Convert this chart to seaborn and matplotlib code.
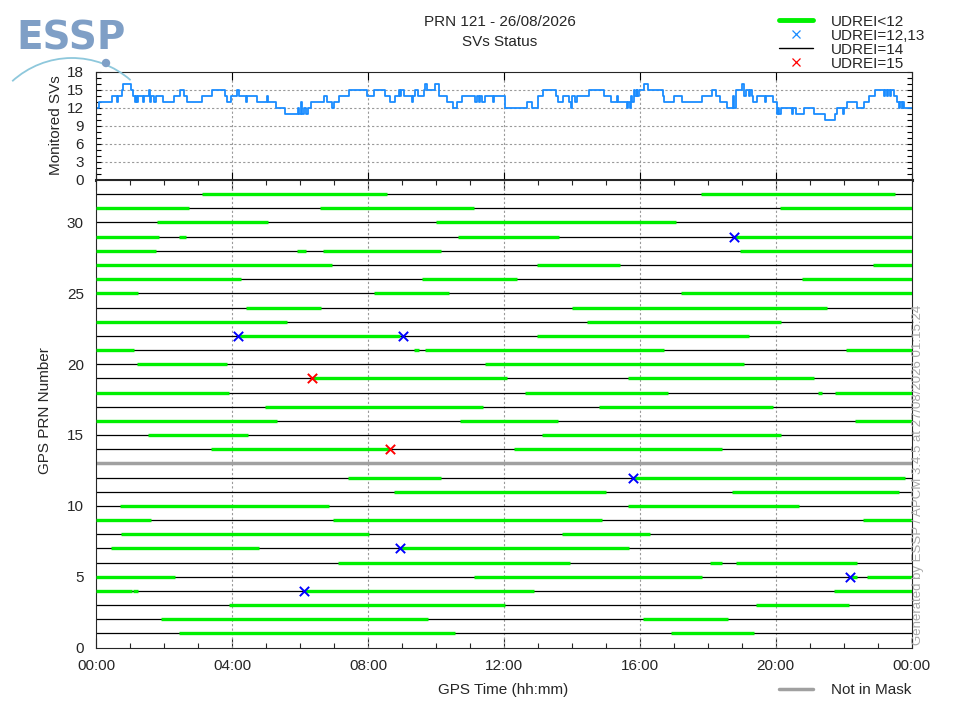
import matplotlib
matplotlib.use("Agg")
import matplotlib.pyplot as plt
import seaborn as sns
import pandas as pd
from matplotlib.lines import Line2D
from matplotlib.patches import Arc, Circle
from matplotlib.ticker import MultipleLocator, FixedLocator

# --- data ---

# monitored SVs (step changes, hours of day)
sv_hours = [0.00, 0.07, 0.47, 0.62, 0.65, 0.75, 0.78, 1.03, 1.09, 1.13, 1.16, 1.19, 1.22,
            1.36, 1.39, 1.54, 1.57, 1.60, 1.70, 1.77, 1.95, 2.29, 2.47, 2.58, 2.68, 3.12,
            3.40, 3.79, 3.86, 3.96, 4.15, 4.20, 4.40, 4.45, 4.74, 5.01, 5.04, 5.28, 5.56,
            5.94, 5.98, 6.02, 6.06, 6.10, 6.18, 6.22, 6.31, 6.70, 6.80, 6.95, 7.00, 7.15,
            7.44, 7.98, 8.18, 8.50, 8.65, 8.79, 8.92, 8.95, 8.98, 9.07, 9.30, 9.33, 9.38,
            9.48, 9.65, 9.68, 9.73, 9.98, 10.09, 10.33, 10.51, 10.63, 10.76, 11.15, 11.22,
            11.27, 11.30, 11.34, 11.45, 11.69, 11.71, 12.03, 12.67, 12.82, 13.01, 13.16,
            13.53, 13.58, 13.75, 13.92, 13.97, 14.00, 14.10, 14.14, 14.49, 14.93, 15.15,
            15.34, 15.37, 15.62, 15.66, 15.71, 15.74, 15.78, 15.82, 15.86, 15.90, 15.92,
            15.96, 16.13, 16.25, 16.69, 16.72, 16.99, 17.23, 17.82, 18.11, 18.25,
            18.37, 18.56, 18.73, 18.78, 18.82, 19.00, 19.05, 19.12, 19.20, 19.25, 19.30,
            19.34, 19.44, 19.68, 19.70, 19.93, 20.03, 20.06, 20.10, 20.15, 20.49, 20.52,
            20.58, 20.82, 21.11, 21.45, 21.73, 21.80, 21.98, 22.01, 22.09, 22.39, 22.60,
            22.73, 22.93, 23.17, 23.20, 23.27, 23.30, 23.37, 23.40, 23.47, 23.56, 23.62,
            23.65, 23.70, 23.73, 23.76, 24.00]
sv_count = [12, 13, 14, 13, 14, 15, 16, 15, 14, 13, 14, 13, 14,
            13, 14, 15, 13, 14, 13, 14, 13, 14, 15, 14, 13, 14,
            15, 14, 13, 14, 15, 14, 13, 14, 13, 14, 13, 12, 11,
            12, 11, 13, 11, 12, 11, 12, 13, 14, 13, 12, 13, 14,
            15, 14, 15, 14, 13, 14, 15, 14, 15, 14, 13, 14, 15,
            14, 15, 16, 15, 16, 14, 13, 12, 13, 14, 13, 14,
            13, 14, 13, 14, 13, 14, 12, 13, 12, 14, 15,
            14, 13, 14, 13, 12, 14, 13, 14, 15, 14, 13,
            14, 13, 12, 13, 12, 14, 13, 15, 14, 15, 14,
            15, 16, 15, 14, 13, 14, 13, 14, 15, 14,
            13, 12, 14, 12, 15, 16, 14, 15, 14, 15, 14,
            13, 14, 13, 14, 13, 11, 12, 11, 12, 11, 12,
            11, 12, 11, 10, 11, 12, 11, 12, 13, 12, 13,
            14, 15, 14, 15, 14, 15, 14, 15, 14, 13, 12,
            13, 12, 13, 12, 12]

# GPS PRNs monitored, and the one not in mask
prn_list = list(range(1, 33))
prn_not_in_mask = [13]

# UDREI<12 periods: PRN, start hour, end hour (one PRN per line)
seg_prn = [32, 32,
           31, 31, 31,
           30, 30,
           29, 29, 29, 29,
           28, 28, 28, 28,
           27, 27, 27,
           26, 26, 26,
           25, 25, 25,
           24, 24,
           23, 23,
           22, 22,
           21, 21, 21, 21,
           20, 20,
           19, 19,
           18, 18, 18, 18,
           17, 17,
           16, 16, 16,
           15, 15,
           14, 14,
           12, 12,
           11, 11,
           10, 10,
           9, 9, 9,
           8, 8,
           7, 7,
           6, 6, 6,
           5, 5, 5, 5,
           4, 4, 4, 4,
           3, 3,
           2, 2,
           1, 1]
seg_start = [3.10, 17.81,
             0.00, 6.57, 20.13,
             1.78, 10.00,
             0.00, 2.44, 10.64, 18.78,
             0.00, 5.91, 6.68, 18.95,
             0.00, 12.98, 22.87,
             0.00, 9.60, 20.77,
             0.00, 8.16, 17.20,
             4.41, 14.01,
             0.00, 14.45,
             4.18, 12.98,
             0.00, 9.36, 9.68, 22.07,
             1.19, 11.44,
             6.36, 15.66,
             0.00, 12.62, 21.25, 21.73,
             4.98, 14.81,
             0.00, 10.71, 22.32,
             1.53, 13.13,
             3.37, 12.30,
             7.42, 15.79,
             8.77, 18.72,
             0.70, 15.66,
             0.00, 6.98, 22.58,
             0.74, 13.72,
             0.44, 8.94,
             7.10, 18.07, 18.83,
             0.00, 11.13, 22.17, 22.68,
             0.00, 1.09, 6.11, 21.70,
             3.92, 19.41,
             1.90, 16.10,
             2.42, 16.93]
seg_end = [8.55, 23.51,
           2.72, 11.12, 24.00,
           5.05, 17.05,
           1.86, 2.64, 13.61, 24.00,
           1.76, 6.17, 10.15, 24.00,
           6.93, 15.41, 24.00,
           4.26, 12.38, 24.00,
           1.22, 10.38, 24.00,
           6.61, 21.50,
           5.60, 20.15,
           8.94, 19.20,
           1.12, 9.51, 16.72, 24.00,
           3.84, 19.06,
           12.08, 21.13,
           3.90, 16.82, 21.35, 24.00,
           11.37, 19.93,
           5.31, 13.58, 24.00,
           4.46, 20.15,
           8.63, 18.41,
           10.14, 23.81,
           14.99, 23.63,
           6.84, 20.69,
           1.60, 14.88, 24.00,
           8.04, 16.30,
           4.78, 15.69,
           13.93, 18.41, 22.39,
           2.32, 17.82, 22.40, 24.00,
           1.04, 1.22, 12.87, 24.00,
           12.04, 22.16,
           9.77, 18.59,
           10.55, 19.36]

# UDREI=12,13 and UDREI=15 events
udrei12_prn = [22, 22, 12, 7, 4, 29, 5]
udrei12_hour = [4.18, 9.04, 15.79, 8.94, 6.11, 18.78, 22.17]
udrei15_prn = [19, 14]
udrei15_hour = [6.36, 8.63]

hour_ticks = [0, 4, 8, 12, 16, 20, 24]
hour_labels = ["00:00", "04:00", "08:00", "12:00", "16:00", "20:00", "00:00"]

# --- plotting ---
sns.set_style("ticks")
plt.rcParams['font.family'] = ['Liberation Sans', 'DejaVu Sans']
plt.rcParams['font.size'] = 11

GREEN = '#00f000'
BLUE = '#0000ff'
RED = '#ff0000'
GRID = '#9a9a9a'

fig = plt.figure(figsize=(9.6, 7.2), dpi=100)
ax_top = fig.add_axes([96.3 / 960, 1 - 179.5 / 720, 815.4 / 960, 108 / 720])
ax_bot = fig.add_axes([96.3 / 960, 1 - 647.5 / 720, 815.4 / 960, 467.5 / 720])

# top panel: monitored SVs
sv = pd.DataFrame({'hour': sv_hours, 'count': sv_count})
sns.lineplot(data=sv, x='hour', y='count', drawstyle='steps-post', color='#1a8cff',
             lw=1.3, estimator=None, sort=False, ax=ax_top)
ax_top.set_xlim(0, 24)
ax_top.set_ylim(0, 18)
ax_top.yaxis.set_major_locator(MultipleLocator(3))
ax_top.yaxis.set_minor_locator(MultipleLocator(1))
ax_top.xaxis.set_major_locator(FixedLocator(hour_ticks))
ax_top.set_xticklabels([])
ax_top.set_xlabel('')
ax_top.set_ylabel('')
ax_top.tick_params(axis='both', which='both', direction='in', top=True, right=True,
                   width=0.8, color='black')
ax_top.tick_params(axis='y', which='both', length=3.5, pad=9, labelsize=11)
ax_top.tick_params(axis='x', which='major', length=6)
for y in [3, 6, 9, 12, 15]:
    ax_top.axhline(y, color=GRID, ls=(0, (2, 2)), lw=0.8, zorder=0)
for x in [4, 8, 12, 16, 20]:
    ax_top.axvline(x, color=GRID, ls=(0, (2, 2)), lw=0.8, zorder=0)
for s in ax_top.spines.values():
    s.set_linewidth(0.8)
ax_top.spines['bottom'].set_linewidth(2.2)

# bottom panel: SV status per PRN
mask_prn = [p for p in prn_list if p not in prn_not_in_mask]
ax_bot.hlines(mask_prn, 0, 24, color='black', lw=0.9, zorder=2)
ax_bot.hlines(prn_not_in_mask, 0, 24, color='#a0a0a0', lw=2.5, zorder=2)
ax_bot.hlines(seg_prn, seg_start, seg_end, color=GREEN, lw=2.4, zorder=3)
for x in [4, 8, 12, 16, 20]:
    ax_bot.axvline(x, color=GRID, ls=(0, (2, 2)), lw=0.8, zorder=1)

sns.scatterplot(x=udrei12_hour, y=udrei12_prn, marker='x', color=BLUE, s=45,
                linewidth=1.4, ax=ax_bot, zorder=5)
sns.scatterplot(x=udrei15_hour, y=udrei15_prn, marker='x', color=RED, s=45,
                linewidth=1.4, ax=ax_bot, zorder=5)

ax_bot.set_xlim(0, 24)
ax_bot.set_ylim(0, 33)
ax_bot.xaxis.set_major_locator(FixedLocator(hour_ticks))
ax_bot.xaxis.set_minor_locator(MultipleLocator(1))
ax_bot.set_xticklabels(hour_labels)
ax_bot.yaxis.set_major_locator(MultipleLocator(5))
ax_bot.tick_params(axis='x', which='both', direction='in', top=True, width=0.8, labelsize=11)
ax_bot.tick_params(axis='x', which='major', length=7, pad=8)
ax_bot.tick_params(axis='x', which='minor', length=3.5)
ax_bot.tick_params(axis='y', length=0, pad=9, labelsize=11)
for s in ax_bot.spines.values():
    s.set_linewidth(0.8)

# labels and titles
fig.text(56 / 960, 1 - 125 / 720, 'Monitored SVs', rotation=90, ha='center', va='center', fontsize=11)
fig.text(45 / 960, 1 - 411 / 720, 'GPS PRN Number', rotation=90, ha='center', va='center', fontsize=11)
fig.text(503 / 960, 1 - 690 / 720, 'GPS Time (hh:mm)', ha='center', va='center', fontsize=11)
fig.text(500 / 960, 1 - 22 / 720, 'PRN 121 - 26/08/2026', ha='center', va='center', fontsize=11)
fig.text(500 / 960, 1 - 42 / 720, 'SVs Status', ha='center', va='center', fontsize=11)
fig.text(918 / 960, 1 - 645 / 720, 'Generated by ESSP / APCM 3.4.5 at 27/08/2026 01:15:24',
         rotation=90, ha='center', va='bottom', fontsize=9.5, color='#a8a8a8')

# legends
handles = [Line2D([], [], color=GREEN, lw=3.5),
           Line2D([], [], color='#1a8cff', marker='x', ls='none', markersize=6, mew=0.9),
           Line2D([], [], color='black', lw=1.0),
           Line2D([], [], color=RED, marker='x', ls='none', markersize=6, mew=0.9)]
labels = ['UDREI<12', 'UDREI=12,13', 'UDREI=14', 'UDREI=15']
fig.legend(handles, labels, loc='upper left', bbox_to_anchor=(779 / 960, 1 - 14.5 / 720),
           frameon=False, borderpad=0, borderaxespad=0, handlelength=2.2,
           handletextpad=1.18, labelspacing=0.0, fontsize=11)
fig.legend([Line2D([], [], color='#a0a0a0', lw=2.5)], ['Not in Mask'], loc='center left',
           bbox_to_anchor=(779 / 960, 1 - 690 / 720), frameon=False, borderpad=0,
           borderaxespad=0, handlelength=2.2, handletextpad=1.18, fontsize=11)

# ESSP logo
fig.text(16 / 960, 1 - 50 / 720, 'ESSP', fontsize=28, fontweight='bold', color='#7f9fc6',
         family=['DejaVu Sans'], va='baseline', ha='left')
fig.add_artist(Arc((72, 720 - 150), 180, 184, theta1=50, theta2=131, transform=None,
                   color='#8ec8dc', lw=1.3))
fig.add_artist(Circle((106, 720 - 63), 3.5, transform=None, color='#7f9fc6'))

fig.savefig('out.png', dpi=100)
